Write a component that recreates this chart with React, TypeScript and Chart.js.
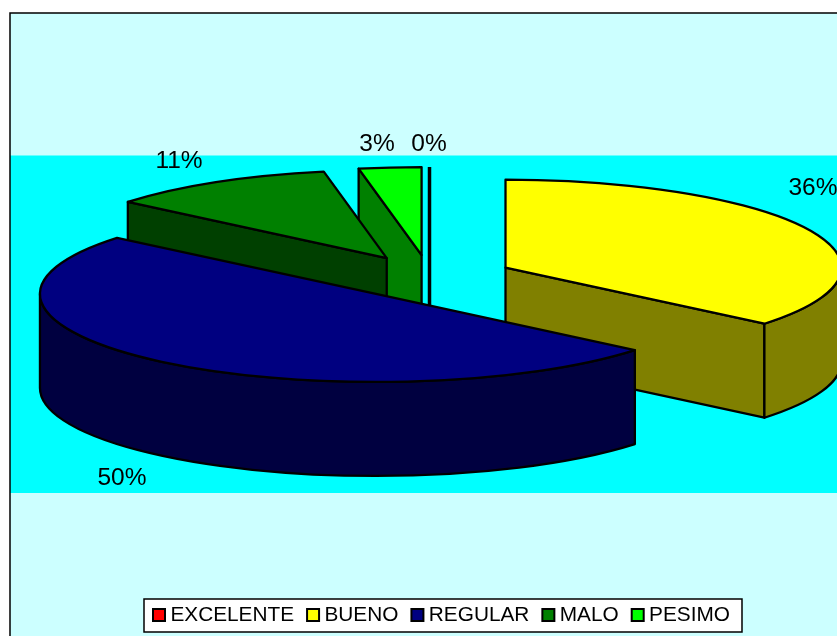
import React, { useEffect, useRef } from "react";
import { Chart, registerables } from "chart.js";

Chart.register(...registerables);

const categories = ["EXCELENTE", "BUENO", "REGULAR", "MALO", "PESIMO"];
const percentages = [0, 36, 50, 11, 3];
const topColors = ["#FF0000", "#FFFF00", "#000080", "#008000", "#00FF00"];
const sideColors = ["#800000", "#808000", "#000040", "#004000", "#008000"];
const valueLabels = ["0%", "36%", "50%", "11%", "3%"];

const FONT = '"Liberation Sans", Arial, sans-serif';
const PIE = { cx: 429.5, cy: 277, a: 336, b: 88, depth: 94, explode: 0.25 };
const FRAME = { left: 10, top: 13, bandTop: 155.5, bandBottom: 493 };
const LABEL_POS = [
  [429, 144],
  [813, 188],
  [122, 478],
  [179, 161],
  [377, 144],
];

const pie3d = {
  id: "pie3d",
  beforeDraw(chart: any) {
    const { ctx, width, height, legend } = chart;
    ctx.save();
    ctx.fillStyle = "#FFFFFF";
    ctx.fillRect(0, 0, width, height);
    ctx.fillStyle = "#CCFFFF";
    ctx.fillRect(FRAME.left, FRAME.top, width, height);
    ctx.fillStyle = "#00FFFF";
    ctx.fillRect(FRAME.left, FRAME.bandTop, width, FRAME.bandBottom - FRAME.bandTop);
    ctx.strokeStyle = "#000000";
    ctx.lineWidth = 1.5;
    ctx.beginPath();
    ctx.moveTo(FRAME.left, height + 2);
    ctx.lineTo(FRAME.left, FRAME.top);
    ctx.lineTo(width + 2, FRAME.top);
    ctx.stroke();
    const boxes = legend.legendHitBoxes;
    const first = boxes[0];
    const last = boxes[boxes.length - 1];
    const midY = first.top + first.height / 2;
    const boxLeft = first.left - 7;
    ctx.fillStyle = "#FFFFFF";
    ctx.lineWidth = 1.5;
    ctx.beginPath();
    ctx.rect(boxLeft, midY - 16.5, last.left + last.width + 12 - boxLeft, 33);
    ctx.fill();
    ctx.stroke();
    ctx.restore();
  },
  beforeDatasetsDraw(chart: any) {
    const { ctx } = chart;
    const arcs = chart.getDatasetMeta(0).data;
    const { a, b, depth, explode } = PIE;
    const slices = arcs.map((arc: any, i: number) => {
      const s = arc.startAngle;
      const e = arc.endAngle;
      const mid = (s + e) / 2;
      return {
        i,
        s,
        e,
        x: PIE.cx + explode * a * Math.cos(mid),
        y: PIE.cy + explode * b * Math.sin(mid),
        top: arc.options.backgroundColor,
      };
    });
    slices.sort((p: any, q: any) => p.y - q.y);
    ctx.save();
    ctx.lineJoin = "round";
    ctx.strokeStyle = "#000000";
    ctx.lineWidth = 2.3;
    for (const sl of slices) {
      const { x, y, s, e } = sl;
      const px = (t: number) => x + a * Math.cos(t);
      const py = (t: number) => y + b * Math.sin(t);
      ctx.fillStyle = sideColors[sl.i];
      if (e - s < 1e-6) {
        ctx.lineWidth = 3.5;
        ctx.beginPath();
        ctx.moveTo(px(s), py(s));
        ctx.lineTo(x, y);
        ctx.lineTo(x, y + depth);
        ctx.stroke();
        ctx.lineWidth = 2.3;
        continue;
      }
      const face = (t: number) => {
        ctx.beginPath();
        ctx.moveTo(x, y);
        ctx.lineTo(px(t), py(t));
        ctx.lineTo(px(t), py(t) + depth);
        ctx.lineTo(x, y + depth);
        ctx.closePath();
        ctx.fill();
        ctx.stroke();
      };
      // outward-facing cut faces
      if (Math.sin(s + Math.PI / 2) < 0) face(s);
      if (Math.sin(e + Math.PI / 2) > 1e-6) face(e);
      // rim, only the front half of the ellipse
      const ranges = [
        [Math.max(s, 0), Math.min(e, Math.PI)],
        [Math.max(s, 2 * Math.PI), Math.min(e, 3 * Math.PI)],
      ];
      for (const [r0, r1] of ranges) {
        if (r1 <= r0) continue;
        ctx.beginPath();
        ctx.ellipse(x, y, a, b, 0, r0, r1);
        ctx.lineTo(px(r1), py(r1) + depth);
        ctx.ellipse(x, y + depth, a, b, 0, r1, r0, true);
        ctx.closePath();
        ctx.fill();
        ctx.stroke();
      }
      ctx.fillStyle = sl.top;
      ctx.beginPath();
      ctx.moveTo(x, y);
      ctx.ellipse(x, y, a, b, 0, s, e);
      ctx.closePath();
      ctx.fill();
      ctx.stroke();
    }
    ctx.fillStyle = "#000000";
    ctx.font = `24.5px ${FONT}`;
    ctx.textAlign = "center";
    ctx.textBaseline = "middle";
    valueLabels.forEach((t, i) => ctx.fillText(t, LABEL_POS[i][0], LABEL_POS[i][1]));
    ctx.restore();
    return false;
  },
  afterDraw(chart: any) {
    const { ctx, legend } = chart;
    ctx.save();
    ctx.strokeStyle = "#000000";
    ctx.lineWidth = 2;
    legend.legendHitBoxes.forEach((h: any, i: number) => {
      ctx.fillStyle = topColors[i];
      ctx.beginPath();
      ctx.rect(h.left + 2, h.top + h.height / 2 - 6.5, 12, 12);
      ctx.fill();
      ctx.stroke();
    });
    ctx.restore();
  },
};

export default function App() {
  const ref = useRef<HTMLCanvasElement>(null);
  useEffect(() => {
    const chart = new Chart(ref.current!, {
      type: "pie",
      data: {
        labels: categories,
        datasets: [{ data: percentages, backgroundColor: topColors, borderColor: "#000000" }],
      },
      options: {
        animation: false,
        responsive: false,
        devicePixelRatio: 1,
        layout: { padding: { left: 44, bottom: 0 } },
        plugins: {
          tooltip: { enabled: false },
          legend: {
            position: "bottom",
            labels: {
              color: "#000000",
              font: { family: FONT, size: 20.8 },
              boxWidth: 9,
              boxHeight: 12,
              padding: 11,
              generateLabels: () =>
                categories.map((text, index) => ({
                  text,
                  index,
                  fillStyle: "transparent",
                  strokeStyle: "transparent",
                  lineWidth: 0,
                  hidden: false,
                })),
            },
          },
        },
      } as any,
      plugins: [pie3d],
    });
    return () => chart.destroy();
  }, []);
  return (
    <canvas
      ref={ref}
      width={837}
      height={636}
      style={{ position: "fixed", left: 0, top: 0, display: "block" }}
    />
  );
}
